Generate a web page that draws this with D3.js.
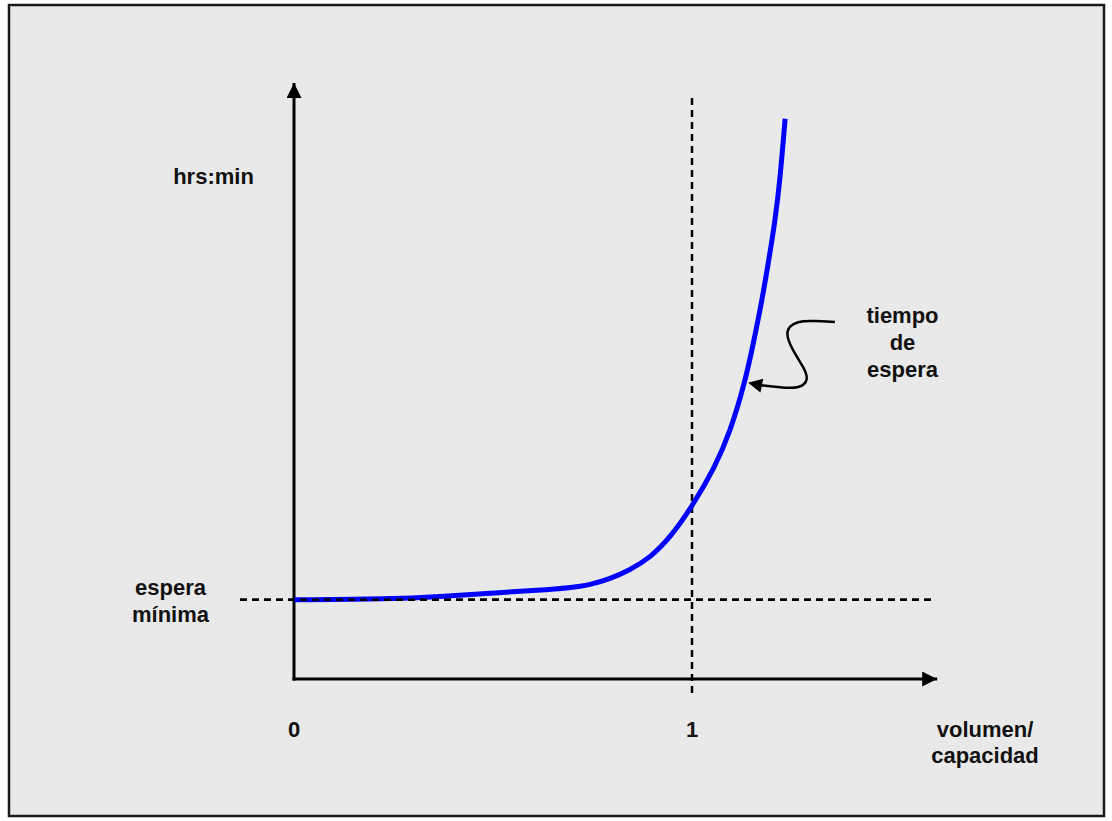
<!DOCTYPE html>
<html>
<head>
<meta charset="utf-8">
<script src="https://cdn.jsdelivr.net/npm/d3@7"></script>
<style>
  html, body { margin: 0; padding: 0; background: #ffffff; }
  svg { display: block; }
  text { font-family: "Liberation Sans", Arial, sans-serif; font-weight: bold; fill: #111; }
</style>
</head>
<body>
<svg id="chart" width="1112" height="821"></svg>
<script>
// ---- data (volumen/capacidad vs tiempo de espera, arbitrary time units) ----
const curveVC   = [0, 0.241, 0.367, 0.492, 0.618, 0.693, 0.744, 0.794, 0.844, 0.894, 0.945, 1.0, 1.058, 1.095, 1.133, 1.156, 1.176, 1.193, 1.209, 1.221, 1.234];
const curveTime = [1.33, 1.34, 1.38, 1.44, 1.49, 1.53, 1.58, 1.68, 1.83, 2.03, 2.37, 2.89, 3.56, 4.13, 4.97, 5.69, 6.36, 7.03, 7.70, 8.37, 9.40];
const minWait = 1.33;          // "espera mínima"
const capacityRatio = 1;       // vertical reference line
const xTickValues = [0, 1];
const xTickLabels = ["0", "1"];
const xAxisEnd = 1.616;
const yAxisEnd = 10;
// annotation arrow path (data units) from label to curve
const annotVC   = [1.359, 1.306, 1.266, 1.231, 1.251, 1.281, 1.294, 1.271, 1.221, 1.171];
const annotTime = [5.99, 6.01, 6.01, 5.86, 5.53, 5.23, 5.02, 4.87, 4.89, 4.93];
const annotTip  = [1.141, 4.97];

const svg = d3.select("#chart");

// frame
svg.append("rect").attr("x", 9).attr("y", 5).attr("width", 1095).attr("height", 811)
  .attr("fill", "#e9e9e9").attr("stroke", "#1a1a1a").attr("stroke-width", 2.5);

const x = d3.scaleLinear().domain([0, 1]).range([294, 692]);
const y = d3.scaleLinear().domain([0, 10]).range([679, 83]);

// markers
const defs = svg.append("defs");
defs.append("marker").attr("id", "axArrow").attr("viewBox", "0 0 10 10")
  .attr("refX", 10).attr("refY", 5).attr("markerUnits", "userSpaceOnUse")
  .attr("markerWidth", 15).attr("markerHeight", 15).attr("orient", "auto")
  .append("path").attr("d", "M0,0 L10,5 L0,10 Z").attr("fill", "#000");

function hDash() {
  svg.append("line")
    .attr("x1", 240).attr("x2", x(xAxisEnd) - 2)
    .attr("y1", y(minWait)).attr("y2", y(minWait))
    .attr("stroke", "#000").attr("stroke-width", 2.5).attr("stroke-dasharray", "7,5");
}
hDash();
svg.append("line")
  .attr("x1", x(capacityRatio)).attr("x2", x(capacityRatio))
  .attr("y1", y(9.75)).attr("y2", 698)
  .attr("stroke", "#000").attr("stroke-width", 2.5).attr("stroke-dasharray", "7,5");

// axes
svg.append("line").attr("x1", x(0)).attr("x2", x(0)).attr("y1", y(0) + 1.5).attr("y2", y(yAxisEnd))
  .attr("stroke", "#000").attr("stroke-width", 3).attr("marker-end", "url(#axArrow)");
svg.append("line").attr("x1", x(0) - 1.5).attr("x2", x(xAxisEnd)).attr("y1", y(0)).attr("y2", y(0))
  .attr("stroke", "#000").attr("stroke-width", 3).attr("marker-end", "url(#axArrow)");

// curve
const pts = curveVC.map((v, i) => [v, curveTime[i]]);
svg.append("path").datum(pts)
  .attr("d", d3.line().x(d => x(d[0])).y(d => y(d[1])).curve(d3.curveBasis))
  .attr("fill", "none").attr("stroke", "#0000ff").attr("stroke-width", 5);

// dashed line drawn again on top of the blue curve start
hDash();

// annotation S arrow
const aPts = annotVC.map((v, i) => [v, annotTime[i]]);
svg.append("path").datum(aPts)
  .attr("d", d3.line().x(d => x(d[0])).y(d => y(d[1])).curve(d3.curveBasis))
  .attr("fill", "none").attr("stroke", "#000").attr("stroke-width", 2.5);
{
  const tx = x(annotTip[0]), ty = y(annotTip[1]);
  const last = aPts[aPts.length - 1];
  const bx = x(last[0]), by = y(last[1]);
  const ang = Math.atan2(ty - by, tx - bx);
  const L = 14, Wd = 7;
  const px = -Math.sin(ang), py = Math.cos(ang);
  const b0x = tx - L * Math.cos(ang), b0y = ty - L * Math.sin(ang);
  svg.append("path")
    .attr("d", `M${tx},${ty} L${b0x + px * Wd},${b0y + py * Wd} L${b0x - px * Wd},${b0y - py * Wd} Z`)
    .attr("fill", "#000");
}

// tick labels
const fs = 22;
svg.selectAll("text.tick").data(xTickValues).join("text")
  .attr("class", "tick").attr("x", d => x(d)).attr("y", 737)
  .attr("text-anchor", "middle").attr("font-size", fs)
  .text((d, i) => xTickLabels[i]);

function multi(lines, cx, y0, dy) {
  const t = svg.append("text").attr("text-anchor", "middle").attr("font-size", fs);
  lines.forEach((s, i) => t.append("tspan").attr("x", cx).attr("y", y0 + i * dy).text(s));
}
multi(["hrs:min"], 213.5, 184, 27);
multi(["espera", "mínima"], 170.5, 595, 27);
multi(["tiempo", "de", "espera"], 902.5, 323, 27);
multi(["volumen/", "capacidad"], 985, 737, 26);
</script>
</body>
</html>
